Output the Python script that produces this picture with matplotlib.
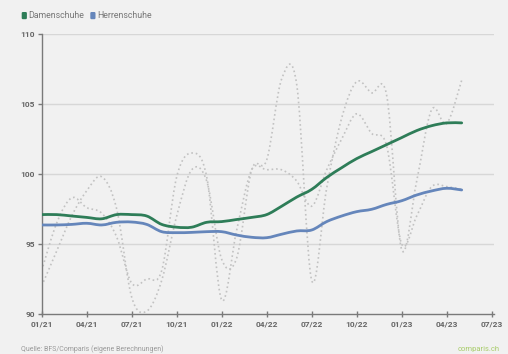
import numpy as np
import matplotlib.pyplot as plt
from matplotlib.path import Path
from matplotlib.patches import PathPatch, FancyBboxPatch
from matplotlib.transforms import IdentityTransform

plt.rcParams['font.family'] = ['Roboto', 'DejaVu Sans']

# Monatsindex ab Januar 2021 (0 = 01/21)
monat = list(range(29))

# Geglättete Indexreihen
damen_trend = [97.1, 97.1, 97.0, 96.9, 96.8, 97.1, 97.1, 97.0, 96.4, 96.2,
               96.2, 96.55, 96.6, 96.75, 96.9, 97.1, 97.7, 98.35, 98.9, 99.75,
               100.45, 101.1, 101.6, 102.1, 102.6, 103.1, 103.45, 103.65, 103.65]
herren_trend = [96.36, 96.36, 96.4, 96.48, 96.36, 96.55, 96.57, 96.4, 95.88, 95.81,
                95.83, 95.88, 95.88, 95.64, 95.48, 95.45, 95.7, 95.93, 96.0, 96.6,
                97.0, 97.31, 97.48, 97.83, 98.09, 98.5, 98.79, 98.98, 98.86]

# Monatswerte (ungeglättet)
damen_monat = [92.0, 94.5, 97.0, 98.8, 99.8, 97.5, 91.2, 90.2, 92.4, 97.0,
               100.3, 99.5, 93.9, 94.0, 100.3, 101.0, 106.8, 106.4, 92.4, 99.0,
               104.0, 106.6, 105.8, 105.6, 94.6, 99.5, 104.6, 103.6, 106.7]
herren_monat = [93.1, 96.5, 98.3, 97.6, 97.2, 95.5, 92.2, 92.5, 93.1, 99.8,
                101.5, 99.8, 91.0, 96.0, 100.3, 100.3, 100.3, 99.5, 97.7, 100.3,
                102.5, 104.3, 102.9, 102.0, 95.0, 97.0, 99.1, 99.1, 98.9]

tick_labels = ["01/21", "04/21", "07/21", "10/21", "01/22", "04/22",
               "07/22", "10/22", "01/23", "04/23", "07/23"]
y_ticks = [90, 95, 100, 105, 110]

GREEN = "#2e7d58"
BLUE = "#6586bb"
BG = "#f1f1f1"


def spline_path(xs, ys, t=1 / 6):
    """Cubic Bezier path through the points (Catmull-Rom style)."""
    n = len(xs)
    verts = [(xs[0], ys[0])]
    codes = [Path.MOVETO]
    for i in range(n - 1):
        x0, y0 = xs[max(i - 1, 0)], ys[max(i - 1, 0)]
        x1, y1 = xs[i], ys[i]
        x2, y2 = xs[i + 1], ys[i + 1]
        x3, y3 = xs[min(i + 2, n - 1)], ys[min(i + 2, n - 1)]
        verts += [(x1 + (x2 - x0) * t, y1 + (y2 - y0) * t),
                  (x2 - (x3 - x1) * t, y2 - (y3 - y1) * t),
                  (x2, y2)]
        codes += [Path.CURVE4] * 3
    return Path(verts, codes)


W, H = 508, 354
fig = plt.figure(figsize=(W / 100, H / 100), dpi=100, facecolor=BG)
left, right_px, top, bottom = 41.7, 41.7 + 30.15 * 15, 34, 314
ax = fig.add_axes([left / W, (H - bottom) / H, (right_px - left) / W, (bottom - top) / H])
ax.set_facecolor(BG)

x_ticks = np.arange(len(tick_labels)) * 3
ax.set_xlim(0, 30.15)
ax.set_ylim(90, 110)

for yv in y_ticks[1:]:
    ax.axhline(yv, color="#d7d7d7", lw=1.0, zorder=0)

for series in (damen_monat, herren_monat):
    ax.add_patch(PathPatch(spline_path(monat, series), fill=False,
                           ec="#c2c2c2", lw=1.2, ls=(0, (1, 1.7)), zorder=2))

ax.add_patch(PathPatch(spline_path(monat, herren_trend), fill=False,
                       ec=BLUE, lw=2.0, zorder=3, capstyle='round', joinstyle='round'))
ax.add_patch(PathPatch(spline_path(monat, damen_trend), fill=False,
                       ec=GREEN, lw=2.0, zorder=4, capstyle='round', joinstyle='round'))

ax.set_xticks(x_ticks)
ax.set_xticklabels(tick_labels)
ax.set_yticks(y_ticks)
ax.set_yticklabels([str(v) for v in y_ticks])
for sp in ("top", "right"):
    ax.spines[sp].set_visible(False)
for sp in ("left", "bottom"):
    ax.spines[sp].set_color("#7a7a7a")
    ax.spines[sp].set_linewidth(1.0)
ax.tick_params(axis="x", direction="inout", length=5, width=1, color="#7a7a7a",
               labelsize=6, labelcolor="#666666", pad=2)
ax.tick_params(axis="y", direction="out", length=3, width=1, color="#7a7a7a",
               labelsize=6, labelcolor="#666666", pad=2)
for lab in ax.get_xticklabels() + ax.get_yticklabels():
    lab.set_fontweight("bold")

# Legende
for x0, color, label in ((21.7, GREEN, "Damenschuhe"), (90.3, BLUE, "Herrenschuhe")):
    fig.add_artist(FancyBboxPatch((x0, H - 19.2), 5.2, 7.2,
                                  boxstyle="round,pad=0,rounding_size=1.2",
                                  transform=IdentityTransform(), fc=color, ec="none"))
    fig.text((x0 + 6.8) / W, 1 - 15.5 / H, label, fontsize=6.3, color="#777777",
             va="center", ha="left")

fig.text(21 / W, 1 - 349 / H, "Quelle: BFS/Comparis (eigene Berechnungen)",
         fontsize=5, color="#9a9a9a", va="center", ha="left")
fig.text(500 / W, 1 - 349 / H, "comparis.ch", fontsize=5.5, color="#a8cc6a",
         va="center", ha="right")

fig.savefig("out.png", dpi=100, facecolor=BG)
